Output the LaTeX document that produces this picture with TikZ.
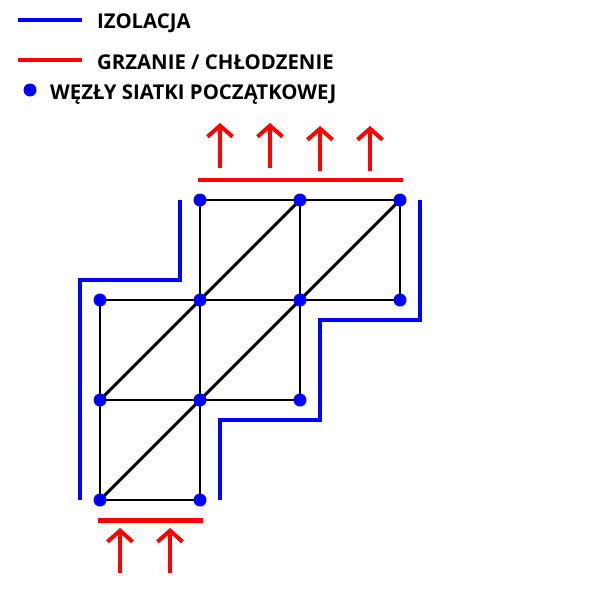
\documentclass[tikz,border=0pt]{standalone}
\usepackage{fontspec}
\setmainfont{Open Sans}
\usetikzlibrary{arrows.meta}
\definecolor{izol}{HTML}{0000FF}
\definecolor{grzan}{HTML}{FF0000}
\definecolor{siatka}{HTML}{000000}
\tikzset{
  edge/.style={draw=siatka, line width=4.2pt, line cap=round},
  izolacja/.style={draw=izol, line width=5.7pt},
  grzanie/.style={draw=grzan, line width=7.1pt},
  strumien/.style={draw=grzan, line width=5.7pt, -{Straight Barb[length=0.55cm,width=1.25cm]}},
  wezel/.style={circle, fill=izol, inner sep=0pt, minimum size=0.65cm},
  legenda/.style={anchor=base west, inner sep=0pt, text=siatka, font=\fontsize{29}{31}\selectfont\bfseries},
}
\begin{document}
\begin{tikzpicture}[x=0.05cm, y=-0.05cm]
  \useasboundingbox (0,0) rectangle (600,600);
  % legenda
  \draw[izolacja] (18,20) -- (82,20);
  \node[legenda] (l1) at (97,28) {IZOLACJA};
  \draw[grzanie] (18,60) -- (82,60);
  \node[legenda] (l2) at (97,69) {GRZANIE / CHŁODZENIE};
  \node[wezel] (l3) at (30,90) {};
  \node[legenda] (l4) at (50,99) {WĘZŁY SIATKI POCZĄTKOWEJ};
  % wezly siatki
  \foreach \x/\y in {2/2,3/2,4/2,1/3,2/3,3/3,4/3,1/4,2/4,3/4,1/5,2/5}
    \coordinate (n\x\y) at (\x*100,\y*100);
  % krawedzie
  \draw[edge] (n22) -- (n42);
  \draw[edge] (n13) -- (n43);
  \draw[edge] (n14) -- (n34);
  \draw[edge] (n15) -- (n25);
  \draw[edge] (n13) -- (n15);
  \draw[edge] (n22) -- (n25);
  \draw[edge] (n32) -- (n34);
  \draw[edge] (n42) -- (n43);
  \draw[edge] (n15) -- (n42);
  \draw[edge] (n14) -- (n32);
  \foreach \n in {22,32,42,13,23,33,43,14,24,34,15,25}
    \node[wezel] (w\n) at (n\n) {};
  % izolacja
  \draw[izolacja] (80,500) -- (80,280) -- (180,280) -- (180,200);
  \draw[izolacja] (420,200) -- (420,320) -- (320,320) -- (320,420) -- (220,420) -- (220,500);
  % grzanie / chlodzenie
  \draw[grzanie] (198,180) -- (403,180);
  \draw[grzanie] (98,520) -- (203,520);
  \foreach \x/\d in {220/0,270/0,320/3,370/3} {
    \coordinate (s\x) at (\x,168+\d);
    \coordinate (k\x) at (\x,123+\d);
    \draw[strumien] (s\x) -- (k\x);
  }
  \foreach \x in {120,170} {
    \coordinate (s\x) at (\x,573);
    \coordinate (k\x) at (\x,528);
    \draw[strumien] (s\x) -- (k\x);
  }
\end{tikzpicture}
\end{document}
